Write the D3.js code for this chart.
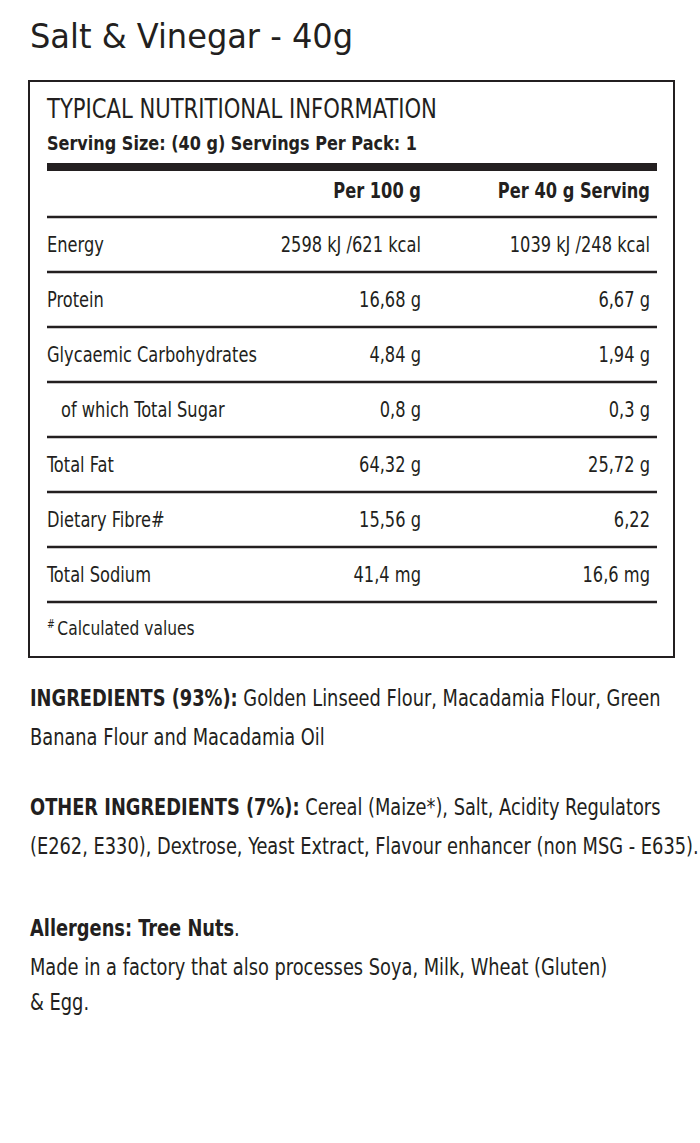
<!DOCTYPE html>
<html><head><meta charset="utf-8">
<script src="https://cdn.jsdelivr.net/npm/d3@7"></script>
<style>body{margin:0;background:#fff}</style>
</head><body>
<svg id="c" width="700" height="1143"></svg>
<script>
const nutrients = ["Energy","Protein","Glycaemic Carbohydrates","of which Total Sugar","Total Fat","Dietary Fibre#","Total Sodium"];
const per100 = ["2598 kJ /621 kcal","16,68 g","4,84 g","0,8 g","64,32 g","15,56 g","41,4 mg"];
const per40 = ["1039 kJ /248 kcal","6,67 g","1,94 g","0,3 g","25,72 g","6,22","16,6 mg"];
const columns = ["Per 100 g","Per 40 g Serving"];

const F = "'DejaVu Sans Condensed','Liberation Sans Narrow',sans-serif";
const ink = "#231f20";
const svg = d3.select("#c").attr("font-family", F).attr("fill", ink);

// text squeezed horizontally to mimic a condensed face
function txt(parent, x, y, size, sx, anchor) {
  return parent.append("text")
    .attr("transform", `translate(${x},${y}) scale(${sx},1)`)
    .attr("font-size", size).attr("text-anchor", anchor || "start");
}

txt(svg, 30, 48, 33, 1.08).text("Salt & Vinegar - 40g");

// Panel
svg.append("rect").attr("x", 29).attr("y", 81).attr("width", 645).attr("height", 576)
  .attr("fill", "none").attr("stroke", ink).attr("stroke-width", 2);
txt(svg, 47, 118, 27, 0.87).text("TYPICAL NUTRITIONAL INFORMATION");
txt(svg, 47, 150, 19, 0.94).attr("font-weight", 700).text("Serving Size: (40 g) Servings Per Pack: 1");
svg.append("rect").attr("x", 47).attr("y", 163).attr("width", 610).attr("height", 8);

const colX = [421, 650];
columns.forEach((c, i) => txt(svg, colX[i], 198, 21, 0.86, "end").attr("font-weight", 700).text(c));

const y = d3.scaleBand().domain(nutrients).range([217, 602]);
svg.append("line").attr("x1", 47).attr("x2", 657).attr("y1", 217).attr("y2", 217).attr("stroke", ink).attr("stroke-width", 2.5);
const row = svg.append("g").selectAll("g").data(nutrients).join("g")
  .attr("transform", d => `translate(0,${y(d)})`);
row.append("line").attr("x1", 47).attr("x2", 657).attr("y1", y.bandwidth()).attr("y2", y.bandwidth())
  .attr("stroke", ink).attr("stroke-width", 2.5);
row.each(function (d, i) {
  const g = d3.select(this);
  txt(g, i === 3 ? 61 : 47, 35, 21, 0.86).text(d);
  txt(g, colX[0], 35, 21, 0.86, "end").text(per100[i]);
  txt(g, colX[1], 35, 21, 0.86, "end").text(per40[i]);
});

const fn = txt(svg, 47, 635, 20, 0.86);
fn.append("tspan").attr("font-size", 12).attr("dy", -7).text("#");
fn.append("tspan").attr("dy", 7).attr("dx", 3).text("Calculated values");

// Ingredients
const paras = [
  [[["INGREDIENTS (93%):", 1], [" Golden Linseed Flour, Macadamia Flour, Green", 0]], 706],
  [[["Banana Flour and Macadamia Oil", 0]], 745],
  [[["OTHER INGREDIENTS (7%):", 1], [" Cereal (Maize*), Salt, Acidity Regulators", 0]], 815],
  [[["(E262, E330), Dextrose, Yeast Extract, Flavour enhancer (non MSG - E635).", 0]], 854],
  [[["Allergens: Tree Nuts", 1], [".", 0]], 936],
  [[["Made in a factory that also processes Soya, Milk, Wheat (Gluten)", 0]], 975],
  [[["& Egg.", 0]], 1010]
];
paras.forEach(([parts, yy]) => {
  const t = txt(svg, 30, yy, 22.5, 0.88);
  parts.forEach(([s, b]) => t.append("tspan").attr("font-weight", b ? 700 : 400).text(s));
});
</script>
</body></html>
